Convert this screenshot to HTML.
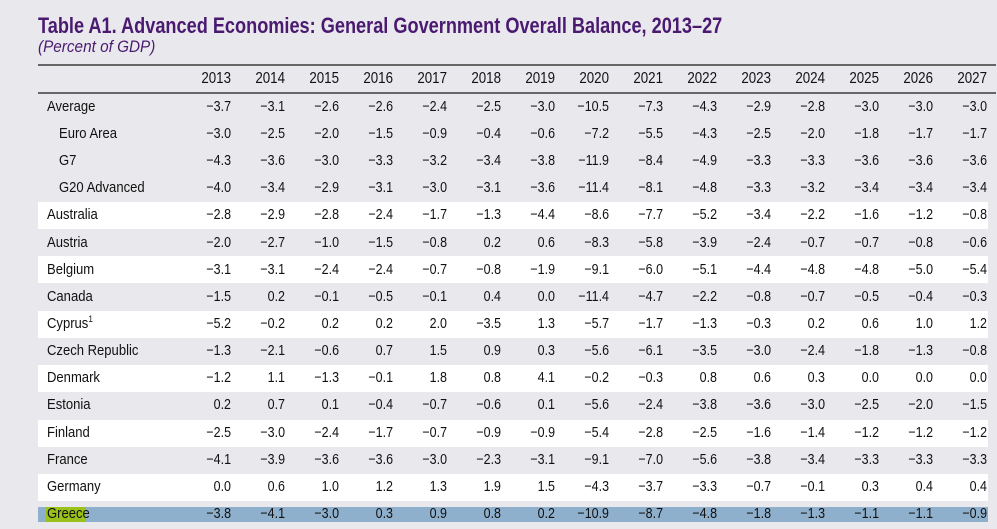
<!DOCTYPE html>
<html><head><meta charset="utf-8"><style>
body{margin:0;width:997px;height:529px;background:#e9e8ed;position:relative;overflow:hidden;font-family:"Liberation Sans",sans-serif;color:#111}
.t{position:absolute;left:38px;top:13px;font-weight:bold;font-size:22px;color:#4a1a70;white-space:nowrap;transform-origin:0 0;transform:scaleX(0.825)}
.s{position:absolute;left:38px;top:37px;font-style:italic;font-size:17px;color:#4a1a70;transform-origin:0 0;transform:scaleX(0.9)}
.r{position:absolute;left:38px;width:950px;height:27px}
.rule{position:absolute;left:38px;width:958px;background:#666}
.row{position:absolute;left:38px;width:950px;height:20px;font-size:14.5px;line-height:20px}
.row span{position:absolute;text-align:right;width:50px;transform-origin:100% 50%;transform:scaleX(0.86)}
.row b{position:absolute;font-weight:normal;white-space:nowrap;transform-origin:0 50%;transform:scaleX(0.9)}
.hd{font-size:15.5px}
sup{font-size:9px;line-height:0;position:relative;top:-6px;vertical-align:baseline}
</style></head><body>
<div class="t">Table A1. Advanced Economies: General Government Overall Balance, 2013–27</div>
<div class="s">(Percent of GDP)</div>
<div class="rule" style="top:64px;height:2px"></div>
<div class="rule" style="top:92px;height:2px"></div>
<div class="r" style="top:202px;background:#fff"></div>
<div class="r" style="top:256px;background:#fff"></div>
<div class="r" style="top:311px;background:#fff"></div>
<div class="r" style="top:365px;background:#fff"></div>
<div class="r" style="top:420px;background:#fff"></div>
<div class="r" style="top:474px;background:#fff"></div>
<div class="r" style="top:507px;height:15px;background:#8fb0cc"></div>
<div style="position:absolute;left:46px;top:507px;width:40px;height:15px;background:#9ac21b"></div>
<div id="c"></div>
<script>
var data=[
["",1,["2013","2014","2015","2016","2017","2018","2019","2020","2021","2022","2023","2024","2025","2026","2027"],79],
["Average",0,"−3.7 −3.1 −2.6 −2.6 −2.4 −2.5 −3.0 −10.5 −7.3 −4.3 −2.9 −2.8 −3.0 −3.0 −3.0",107],
["Euro Area",2,"−3.0 −2.5 −2.0 −1.5 −0.9 −0.4 −0.6 −7.2 −5.5 −4.3 −2.5 −2.0 −1.8 −1.7 −1.7",134],
["G7",2,"−4.3 −3.6 −3.0 −3.3 −3.2 −3.4 −3.8 −11.9 −8.4 −4.9 −3.3 −3.3 −3.6 −3.6 −3.6",161],
["G20 Advanced",2,"−4.0 −3.4 −2.9 −3.1 −3.0 −3.1 −3.6 −11.4 −8.1 −4.8 −3.3 −3.2 −3.4 −3.4 −3.4",188],
["Australia",0,"−2.8 −2.9 −2.8 −2.4 −1.7 −1.3 −4.4 −8.6 −7.7 −5.2 −3.4 −2.2 −1.6 −1.2 −0.8",215],
["Austria",0,"−2.0 −2.7 −1.0 −1.5 −0.8 0.2 0.6 −8.3 −5.8 −3.9 −2.4 −0.7 −0.7 −0.8 −0.6",243],
["Belgium",0,"−3.1 −3.1 −2.4 −2.4 −0.7 −0.8 −1.9 −9.1 −6.0 −5.1 −4.4 −4.8 −4.8 −5.0 −5.4",270],
["Canada",0,"−1.5 0.2 −0.1 −0.5 −0.1 0.4 0.0 −11.4 −4.7 −2.2 −0.8 −0.7 −0.5 −0.4 −0.3",297],
["Cyprus<sup>1</sup>",0,"−5.2 −0.2 0.2 0.2 2.0 −3.5 1.3 −5.7 −1.7 −1.3 −0.3 0.2 0.6 1.0 1.2",324],
["Czech Republic",0,"−1.3 −2.1 −0.6 0.7 1.5 0.9 0.3 −5.6 −6.1 −3.5 −3.0 −2.4 −1.8 −1.3 −0.8",351],
["Denmark",0,"−1.2 1.1 −1.3 −0.1 1.8 0.8 4.1 −0.2 −0.3 0.8 0.6 0.3 0.0 0.0 0.0",378],
["Estonia",0,"0.2 0.7 0.1 −0.4 −0.7 −0.6 0.1 −5.6 −2.4 −3.8 −3.6 −3.0 −2.5 −2.0 −1.5",405],
["Finland",0,"−2.5 −3.0 −2.4 −1.7 −0.7 −0.9 −0.9 −5.4 −2.8 −2.5 −1.6 −1.4 −1.2 −1.2 −1.2",433],
["France",0,"−4.1 −3.9 −3.6 −3.6 −3.0 −2.3 −3.1 −9.1 −7.0 −5.6 −3.8 −3.4 −3.3 −3.3 −3.3",460],
["Germany",0,"0.0 0.6 1.0 1.2 1.3 1.9 1.5 −4.3 −3.7 −3.3 −0.7 −0.1 0.3 0.4 0.4",487],
["Greece",0,"−3.8 −4.1 −3.0 0.3 0.9 0.8 0.2 −10.9 −8.7 −4.8 −1.8 −1.3 −1.1 −1.1 −0.9",514]];
var h="";
data.forEach(function(d){
 var v=typeof d[2]=="string"?d[2].split(" "):d[2];
 h+='<div class="row'+(d[1]==1?' hd':'')+'" style="top:'+(d[3]-10)+'px">';
 if(d[0])h+='<b style="left:'+(d[1]==2?21:9)+'px">'+d[0]+'</b>';
 v.forEach(function(x,i){var r=231+i*54-38;h+='<span style="left:'+(r-50)+'px">'+x+'</span>';});
 h+='</div>';});
document.getElementById("c").innerHTML=h;
</script>
</body></html>
